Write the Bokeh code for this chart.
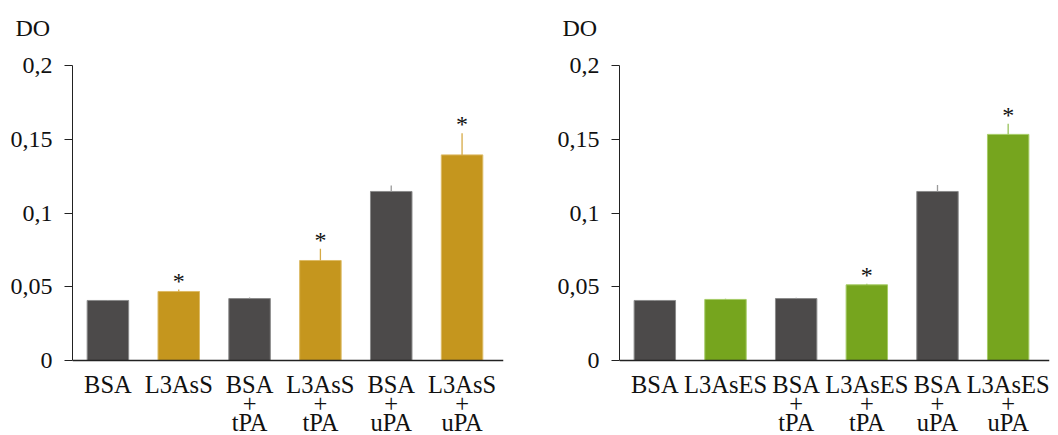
from bokeh.plotting import figure
from bokeh.models import ColumnDataSource, FixedTicker, Range1d, Span, Title
from bokeh.layouts import row
from bokeh.embed import file_html
from bokeh.resources import INLINE
from bokeh.core.properties import value

# ---------------- data ----------------
left_line1 = ["BSA", "L3AsS", "BSA", "L3AsS", "BSA", "L3AsS"]
left_line2 = ["", "", "+", "+", "+", "+"]
left_line3 = ["", "", "tPA", "tPA", "uPA", "uPA"]
left_values = [0.0407, 0.0468, 0.0420, 0.0678, 0.1146, 0.1394]
left_errors = [0.0003, 0.0013, 0.0007, 0.0079, 0.0041, 0.0146]
left_signif = [False, True, False, True, False, True]

right_line1 = ["BSA", "L3AsES", "BSA", "L3AsES", "BSA", "L3AsES"]
right_line2 = ["", "", "+", "+", "+", "+"]
right_line3 = ["", "", "tPA", "tPA", "uPA", "uPA"]
right_values = [0.0407, 0.0414, 0.0420, 0.0513, 0.1146, 0.1533]
right_errors = [0.0003, 0.0004, 0.0005, 0.0007, 0.0043, 0.0072]
right_signif = [False, False, False, True, False, True]

y_ticks = [0, 0.05, 0.1, 0.15, 0.2]
y_tick_labels = ["0", "0,05", "0,1", "0,15", "0,2"]
axis_title = "DO"

FONT = "Liberation Serif"
DARK, DARK_EDGE, DARK_ERR = "#4c4a4a", "#8a8a8a", "#9a9a9a"

HEIGHT = 435
TOP = 65                      # frame top (value 0.2)
PLOT_H = 295                  # pixels between 0 and 0.2
PX_PER_UNIT = PLOT_H / 0.2
Y_START = -(HEIGHT - TOP - PLOT_H) / PX_PER_UNIT   # room for the category labels


def make_panel(line1, line2, line3, values, errors, signif,
               accent, accent_edge, accent_err, width, border_left, border_right,
               x_end):
    n = len(values)
    xs = [i + 0.5 for i in range(n)]
    fills = [DARK if i % 2 == 0 else accent for i in range(n)]
    edges = [DARK_EDGE if i % 2 == 0 else accent_edge for i in range(n)]
    errc = [DARK_ERR if i % 2 == 0 else accent_err for i in range(n)]
    tops = [v + e for v, e in zip(values, errors)]

    p = figure(width=width, height=HEIGHT, output_backend="svg", toolbar_location=None,
               x_range=Range1d(0, x_end), y_range=Range1d(Y_START, 0.2),
               min_border_left=border_left, min_border_right=border_right,
               min_border_top=TOP, min_border_bottom=0)
    p.outline_line_color = None
    p.grid.visible = False
    p.xaxis.visible = False
    p.background_fill_color = "white"
    p.border_fill_color = "white"

    src = ColumnDataSource(dict(x=xs, top=values, tops=tops, fill=fills, edge=edges,
                                errc=errc, l1=line1, l2=line2, l3=line3))
    p.vbar(x="x", top="top", bottom=0, width=0.586, fill_color="fill",
           line_color="edge", line_width=1, source=src)
    p.segment(x0="x", y0="top", x1="x", y1="tops", line_color="errc",
              line_width=1.3, source=src)

    sx = [x for x, s in zip(xs, signif) if s]
    sy = [t for t, s in zip(tops, signif) if s]
    star_src = ColumnDataSource(dict(x=sx, y=sy, t=["*"] * len(sx)))
    p.text(x="x", y="y", text="t", source=star_src, text_align="center",
           text_baseline="alphabetic", text_font=value(FONT),
           text_font_size="24px", text_color="#111111", y_offset=-9)

    # baseline (x axis line)
    p.add_layout(Span(location=0, dimension="width", line_color="#222222", line_width=1.5))

    # category labels, three lines
    for col, off in (("l1", 24), ("l2", 43), ("l3", 62)):
        p.text(x="x", y=0, text=col, source=src, y_offset=off,
               text_align="center", text_baseline="alphabetic",
               text_font=value(FONT), text_font_size="24.5px", text_color="#111111")

    yax = p.yaxis[0]
    yax.bounds = (0, 0.2)
    yax.ticker = FixedTicker(ticks=y_ticks)
    yax.major_label_overrides = {t: l for t, l in zip(y_ticks, y_tick_labels)}
    yax.major_label_text_font = FONT
    yax.major_label_text_font_size = "24px"
    yax.major_label_text_color = "#111111"
    yax.major_label_standoff = 12
    yax.major_tick_in = 0
    yax.major_tick_out = 8
    yax.minor_tick_line_color = None
    yax.axis_line_color = "#222222"
    yax.major_tick_line_color = "#222222"

    # spacer panel (nearest the frame), then the "DO" title above it
    p.add_layout(Title(text=" ", standoff=22, text_font_size="1px"), "above")
    p.add_layout(Title(text=axis_title, align="left", offset=-57, vertical_align="bottom",
                       standoff=0, text_font=FONT, text_font_size="24px",
                       text_font_style="normal", text_color="#111111"), "above")
    return p


p1 = make_panel(left_line1, left_line2, left_line3, left_values, left_errors, left_signif,
                "#c5961e", "#ddbb66", "#d6aa45", 554, 72, 51, 6.085)
p2 = make_panel(right_line1, right_line2, right_line3, right_values, right_errors, right_signif,
                "#76a51e", "#a6cc66", "#98c25a", 504, 64, 9, 6.085)

layout = row(p1, p2)
open("out.html", "w").write(file_html(layout, INLINE))
